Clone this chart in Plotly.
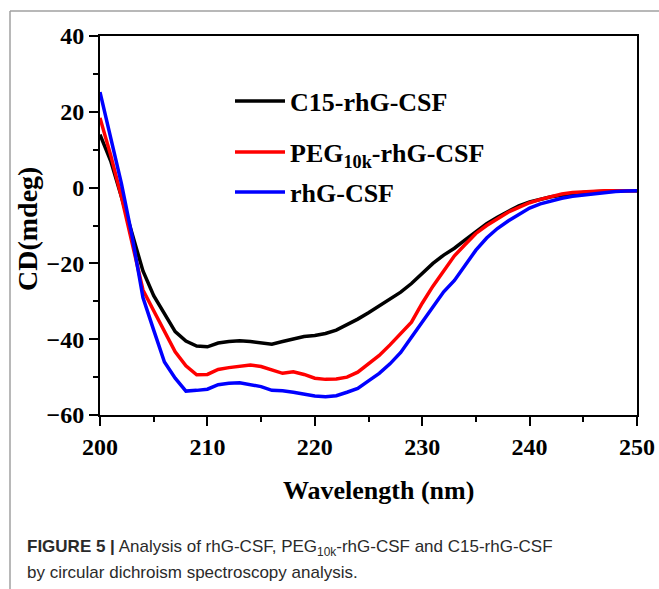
import plotly.graph_objects as go

wavelength = list(range(200, 251))

c15 = [14, 7, -2.5, -12.5, -22, -28.5, -33.3, -38, -40.5, -41.8,
       -42, -41, -40.6, -40.4, -40.6, -41, -41.3, -40.6, -40, -39.3,
       -39, -38.5, -37.6, -36.2, -34.7, -33, -31.2, -29.3, -27.6, -25.3,
       -22.5, -20, -17.8, -16, -13.8, -11.6, -9.5, -7.8, -6.2, -4.8,
       -3.8, -3, -2.4, -2, -1.6, -1.3, -1.1, -0.9, -0.8, -0.8, -0.8]

peg = [18.4, 8.5, -2.5, -14.5, -27, -32.5, -38, -43.3, -47, -49.4,
       -49.3, -48, -47.5, -47.2, -46.8, -47.2, -48, -49, -48.6, -49.3,
       -50.3, -50.6, -50.5, -50, -48.7, -46.5, -44.3, -41.5, -38.5, -35.5,
       -30.5, -26, -22, -18, -15, -12.1, -10, -8.3, -6.5, -5.2,
       -4, -3.1, -2.3, -1.7, -1.3, -1.1, -0.9, -0.8, -0.8, -0.8, -0.8]

rhg = [25.2, 13.5, 1, -13, -29, -37.6, -46, -50.3, -53.7, -53.5,
       -53.2, -52, -51.6, -51.5, -52, -52.5, -53.5, -53.6, -54, -54.5,
       -55, -55.2, -54.9, -54, -53, -51, -49, -46.5, -43.5, -39.5,
       -35.5, -31.3, -27.5, -24.5, -20.3, -16.5, -13.3, -10.8, -8.8, -7,
       -5.4, -4.3, -3.5, -2.8, -2.3, -2, -1.6, -1.2, -1, -0.9, -0.8]

series_names = ["C15-rhG-CSF", "PEG<sub>10k</sub>-rhG-CSF", "rhG-CSF"]
series_colors = ["#000000", "#ff0000", "#0000ff"]
x_ticks = [200, 210, 220, 230, 240, 250]
y_ticks = [-60, -40, -20, 0, 20, 40]

SERIF = "Liberation Serif, Times New Roman, serif"
SANS = "Liberation Sans, Arial, sans-serif"

fig = go.Figure()
legend_ids = ["legend", "legend2", "legend3"]
for name, vals, col, lg in zip(series_names, [c15, peg, rhg], series_colors, legend_ids):
    fig.add_trace(go.Scatter(x=wavelength, y=vals, mode="lines", name=name,
                             line=dict(color=col, width=3.5), legend=lg))

W, H = 659, 589
L, R, T, B = 100, 22, 36, 174
pw, ph = W - L - R, H - T - B

def px(x):
    return (x - L) / pw

def py(y):
    return (H - B - y) / ph

leg_common = dict(font=dict(family=SERIF, size=26, color="black", weight="bold"),
                  bgcolor="rgba(0,0,0,0)", xanchor="left", yanchor="middle",
                  itemwidth=50, borderwidth=0)

axis_common = dict(ticks="outside", ticklen=9, tickwidth=2, tickcolor="black",
                   showline=True, linecolor="black", linewidth=2, mirror=True,
                   showgrid=False, zeroline=False, automargin=False,
                   tickfont=dict(family=SERIF, size=24, color="black", weight="bold"))

fig.update_layout(
    width=W, height=H, autosize=False,
    margin=dict(l=L, r=R, t=T, b=B, autoexpand=False),
    paper_bgcolor="white", plot_bgcolor="white",
    showlegend=True,
    legend=dict(x=px(230), y=py(101), **leg_common),
    legend2=dict(x=px(230), y=py(152), **leg_common),
    legend3=dict(x=px(230), y=py(192), **leg_common),
    xaxis=dict(range=[200, 250], tickvals=x_ticks,
               minor=dict(dtick=5, ticks="outside", ticklen=5, tickwidth=1.5,
                          tickcolor="black", showgrid=False),
               **axis_common),
    yaxis=dict(range=[-60, 40], tickvals=y_ticks,
               minor=dict(dtick=10, ticks="outside", ticklen=5, tickwidth=1.5,
                          tickcolor="black", showgrid=False),
               **axis_common),
)

annotations = [
    dict(text="<b>CD(mdeg)</b>", x=px(27), y=py(229), xref="paper", yref="paper",
         showarrow=False, textangle=-90, xanchor="center", yanchor="middle",
         font=dict(family=SERIF, size=28, color="black")),
    dict(text="<b>Wavelength (nm)</b>", x=px(378), y=py(490), xref="paper", yref="paper",
         showarrow=False, xanchor="center", yanchor="middle",
         font=dict(family=SERIF, size=26, color="black")),
    dict(text="<b>FIGURE 5 |</b> Analysis of rhG-CSF, PEG<sub>10k</sub>-rhG-CSF and C15-rhG-CSF",
         x=px(25), y=py(548), xref="paper", yref="paper", showarrow=False,
         xanchor="left", yanchor="middle", align="left",
         font=dict(family=SANS, size=17, color="#2a2a2a")),
    dict(text="by circular dichroism spectroscopy analysis.",
         x=px(25), y=py(572), xref="paper", yref="paper", showarrow=False,
         xanchor="left", yanchor="middle", align="left",
         font=dict(family=SANS, size=17, color="#2a2a2a")),
]
fig.update_layout(annotations=annotations)

frame = dict(type="line", xref="paper", yref="paper", line=dict(color="#a0a0a0", width=1.5))
fig.update_layout(shapes=[
    dict(x0=px(10), x1=px(659), y0=py(11), y1=py(11), **frame),
    dict(x0=px(10), x1=px(10), y0=py(11), y1=py(589), **frame),
])

fig.write_html("out.html", config={"displayModeBar": False},
               post_script="document.body.style.margin='0';document.body.style.overflow='hidden';")
